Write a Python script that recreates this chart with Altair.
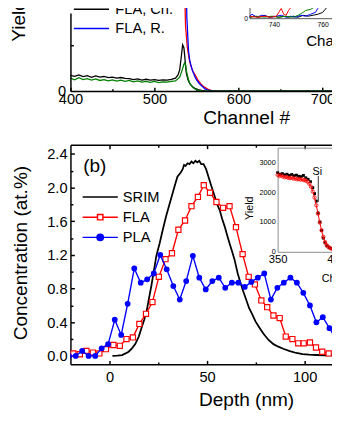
import altair as alt
import pandas as pd

# ---------------- Panel (b): depth profiles ----------------
srim_depth = [1.5, 4.0, 6.5, 8.2, 9.8, 11.5, 13.2, 15.0, 16.5, 17.8, 19.0, 20.2, 21.5, 22.8, 24.0,
              25.7, 27.3, 29.0, 30.7, 32.3, 33.5, 34.8, 36.5, 37.5, 38.2, 39.0, 40.0, 41.0, 42.0, 43.0,
              44.0, 45.0, 46.0, 47.0, 48.2, 49.5, 50.7, 52.3, 54.0, 55.2, 56.5, 57.7, 59.0, 60.2, 61.5,
              62.7, 64.0, 65.7, 67.0, 68.2, 70.0, 71.5, 73.2, 74.8, 77.0, 79.0, 81.5, 84.0, 86.5, 89.0,
              92.0, 95.7, 99.0, 102.3, 106.0, 110.7, 115.0]
srim_conc = [0.0, 0.003, 0.01, 0.03, 0.05, 0.09, 0.14, 0.23, 0.34, 0.43, 0.53, 0.68, 0.84, 1.02, 1.19,
             1.34, 1.50, 1.66, 1.80, 1.93, 2.03, 2.13, 2.18, 2.22, 2.27, 2.26, 2.29, 2.28, 2.31, 2.29,
             2.32, 2.30, 2.32, 2.28, 2.28, 2.22, 2.13, 2.01, 1.89, 1.80, 1.73, 1.63, 1.54, 1.44, 1.34,
             1.25, 1.15, 0.98, 0.88, 0.79, 0.67, 0.57, 0.49, 0.41, 0.33, 0.26, 0.19, 0.14, 0.11, 0.085,
             0.06, 0.035, 0.022, 0.015, 0.011, 0.008, 0.005]

fla_depth = [-18.5, -15.2, -11.8, -8.5, -5.2, -1.8, 2.0, 5.3, 8.7, 12.0,
             15.3, 18.7, 22.0, 25.3, 28.7, 32.0, 35.3, 38.7, 42.0, 45.3,
             48.3, 51.5, 54.8, 58.2, 61.5, 64.8, 68.2, 71.3, 74.5, 77.8,
             80.8, 84.0, 87.2, 90.3, 93.7, 96.7, 99.5, 102.7, 105.8, 109.0, 112.3]
fla_conc = [0.03, 0.02, 0.06, 0.04, 0.03, 0.08, 0.13, 0.12, 0.20, 0.22,
            0.38, 0.50, 0.64, 0.94, 1.15, 1.22, 1.50, 1.61, 1.78, 1.89,
            2.03, 1.94, 1.83, 1.76, 1.78, 1.53, 1.21, 0.94, 0.85, 0.66,
            0.58, 0.48, 0.45, 0.23, 0.20, 0.15, 0.15, 0.16, 0.10, 0.05, 0.03]

pla_depth = [-20.7, -17.3, -14.0, -10.7, -7.3, -4.0, -0.7, 2.7, 6.0, 9.3,
             12.7, 16.0, 19.3, 22.7, 26.0, 29.3, 32.7, 36.0, 39.3, 42.7,
             46.0, 49.3, 52.7, 56.0, 59.3, 62.7, 66.0, 69.3, 72.7, 76.0,
             79.3, 82.7, 86.0, 89.3, 92.7, 96.0, 99.3, 102.7, 106.0, 109.3, 112.7, 116.0]
pla_conc = [0.0, 0.0, 0.06, 0.0, 0.0, 0.09, 0.14, 0.43, 0.25, 0.62,
            1.04, 0.87, 0.91, 0.98, 1.20, 1.03, 0.83, 0.67, 0.89, 1.19,
            0.93, 0.79, 0.89, 0.93, 0.81, 0.87, 0.87, 0.82, 0.88, 0.93,
            0.98, 0.67, 0.81, 0.87, 0.93, 0.87, 0.75, 0.60, 0.40, 0.46, 0.33, 0.20]

b_names = ["SRIM", "FLA", "PLA"]
b_colors = ["black", "#ff0000", "#0000ff"]
b_fills = ["white", "white", "#0000ff"]

# inset of (b): RBS Si edge
inb_ch = [350, 352, 354, 356, 358, 360, 362, 364, 366, 368, 370, 372, 374, 376, 378, 380,
          381.5, 383, 384.5, 386, 387.5, 389, 390.5, 392, 394, 396]
inb_y = [2650, 2600, 2620, 2580, 2600, 2560, 2590, 2550, 2570, 2530, 2520, 2560, 2480, 2430, 2350, 2150,
         1950, 1700, 1300, 1000, 720, 460, 300, 200, 140, 110]
inr_ch = [350, 351.5, 353, 354.5, 356, 357.5, 359, 360.5, 362, 363.5, 365, 366.5, 368, 369.5, 371, 372.5,
          374, 375.5, 377, 378.5, 380, 381.5, 383, 384.5, 386, 387.5, 389, 390.5, 392, 393.5, 395, 396.5]
inr_y = [2580, 2540, 2560, 2520, 2500, 2510, 2480, 2470, 2490, 2450, 2460, 2430, 2440, 2420, 2430, 2400,
         2390, 2350, 2280, 2180, 2020, 1820, 1560, 1280, 980, 720, 500, 330, 220, 160, 120, 100]
si_label = ["Si"]
si_label_ch = [383.9]
si_label_y = [2572]
si_line_ch = [384.7]
si_line_top = [2540]
si_line_bot = [1670]
panel_label = ["(b)"]
panel_label_depth = [-13.5]
panel_label_conc = [2.19]

# ---------------- Panel (a): RBS spectra ----------------
k_ch = [400, 405, 410, 415, 420, 425, 430, 435, 440, 445, 450, 455, 460, 465, 470, 475, 480, 485, 490,
        495, 500, 505, 510, 515, 520, 525, 528, 530, 532, 533.5, 535, 536, 537, 538, 540, 542, 545,
        548, 552, 556, 560, 565, 600, 650, 711]
k_cnt = [170, 160, 175, 158, 168, 150, 165, 152, 158, 146, 152, 140, 147, 138, 135, 125, 132, 120, 128,
         118, 125, 115, 122, 118, 128, 140, 175, 230, 380, 500, 470, 380, 270, 190, 120, 80, 50,
         30, 15, 8, 3, 0, 0, 0, 0]
g_ch = [400, 405, 410, 415, 420, 425, 430, 435, 440, 445, 450, 455, 460, 465, 470, 475, 480, 485, 490,
        495, 500, 505, 510, 515, 520, 525, 530, 533, 535, 536, 537, 538, 540, 542, 545, 548, 552, 556,
        560, 600, 711]
g_cnt = [140, 122, 145, 125, 135, 120, 132, 115, 125, 112, 122, 108, 118, 105, 115, 100, 110, 98, 106,
         95, 104, 92, 100, 96, 104, 110, 150, 230, 290, 305, 285, 220, 140, 85, 45, 22, 10, 3,
         0, 0, 0]
r_ch = [400, 450, 500, 533, 535, 537, 539, 541, 543, 546, 549, 552, 555, 558, 561, 564, 568, 575, 600, 650, 711]
r_cnt = [2600, 2550, 2500, 2450, 1400, 700, 480, 360, 280, 210, 165, 115, 80, 52, 35, 18, 5, 0, 0, 0, 0]
bl_ch = [400, 450, 500, 535, 537, 538.5, 540.5, 542, 545, 549, 553, 557, 560.5, 564, 570, 580, 600, 650, 711]
bl_cnt = [2650, 2600, 2550, 2500, 1500, 800, 440, 330, 225, 137, 85, 50, 21, 10, 3, 0, 0, 0, 0]
a_names = ["PLA, Ch.", "PLA, R.", "FLA, Ch.", "FLA, R."]
a_colors = ["#008000", "#ff0000", "black", "#0000ff"]

# inset of (a)
ti_k_ch = [730, 732, 734, 736, 738, 740, 742, 744, 746, 748, 750, 752, 754, 756, 758, 760, 762, 764, 766, 770]
ti_k_y = [1, 2, 1, 3, 1, 2, 1, 2, 1, 2, 1, 3, 2, 3, 4, 6, 12, 20, 30, 40]
ti_b_ch = [730, 731, 733, 735, 737, 739, 741, 743, 745, 747, 749, 751, 753, 755, 757, 758, 760, 762, 765, 770]
ti_b_y = [2, 4, 1, 3, 2, 1, 2, 3, 1, 2, 1, 3, 2, 4, 6, 10, 16, 25, 35, 45]
ti_g_ch = [730, 733, 736, 739, 742, 745, 748, 750, 752, 753, 755, 757, 759, 761, 764, 770]
ti_g_y = [1, 2, 1, 2, 1, 2, 1, 3, 6, 8, 9, 12, 18, 26, 35, 45]
ti_r_ch = [730, 733, 736, 739, 741, 742, 743, 744, 745, 746, 747, 748, 749, 750, 751, 752, 754, 756, 760, 770]
ti_r_y = [2, 1, 2, 1, 2, 6, 10, 4, 3, 8, 11, 12, 14, 12, 16, 22, 26, 32, 40, 50]

# ---------------- layout / style ----------------
FONT = "Liberation Sans"
W, H = 268, 360


def sc(domain, rng):
    return alt.Scale(domain=domain, range=rng, nice=False, zero=False)


XB = sc([-20, 114], [0, W])
YB = sc([-0.1, 2.51], [H, 135])
XT = sc([400, 711.27], [0, W])
YT = sc([0, 845.7], [80, 0])
XI = sc([350, 450], [212.3, 332.3])
YI = sc([0, 3490], [244.7, 138])
XTI = sc([730, 770], [183.5, 283.5])
YTI = sc([0, 60], [5.3, -54.7])


def ax(**kw):
    base = dict(grid=False, labelFlush=False, labelOverlap=False, domainColor="black",
                tickColor="black", labelColor="black", titleColor="black",
                titleFontWeight="normal", domainWidth=1.5, tickWidth=1.5,
                labelFont=FONT, titleFont=FONT)
    base.update(kw)
    return alt.Axis(**base)


def tick_ax(orient, offset, values, size):
    return ax(orient=orient, offset=offset, values=values, tickSize=size,
              labels=False, domain=False, title=None)


def pos(xf, yf, xs, ys, xa=None, ya=None):
    return dict(x=alt.X(f"{xf}:Q", scale=xs, axis=xa),
                y=alt.Y(f"{yf}:Q", scale=ys, axis=ya))


b_major = [0, 0.4, 0.8, 1.2, 1.6, 2.0, 2.4]
b_minor = [0.2, 0.6, 1.0, 1.4, 1.8, 2.2]

A1 = ax(orient="bottom", values=[0, 50, 100], ticks=False, tickSize=0, labelFontSize=15,
        labelPadding=6, title="Depth (nm)", titleFontSize=19.5, titleX=180, titleY=42.5,
        titleBaseline="alphabetic", titleAlign="center")
A2 = tick_ax("top", -H, [0, 50, 100], 4)
A3 = tick_ax("top", -H, [25, 75], 2.5)
A4 = ax(orient="bottom", offset=135 - H, values=[0, 50, 100], tickSize=4, labels=False, title=None)
A5 = tick_ax("bottom", 135 - H, [25, 75], 2.5)
A6 = ax(orient="left", values=b_major, format=".1f", ticks=False, tickSize=0, labelFontSize=15,
        labelPadding=3.5, title="Concentration (at.%)", titleFontSize=19.5, titleAngle=270,
        titleX=-45, titleY=245.5, titleAlign="center", titleBaseline="alphabetic")
A7 = tick_ax("right", -W, b_major, 4)
A8 = tick_ax("right", -W, b_minor, 2.5)

T1 = ax(orient="bottom", offset=80 - H, values=[400, 500, 600, 700], ticks=False, tickSize=0,
        labelFontSize=15, labelPadding=1, title="Channel #", titleFontSize=19.5, titleX=180,
        titleY=33, titleBaseline="alphabetic", titleAlign="center", zindex=1)
T2 = tick_ax("top", -80, [400, 500, 600, 700], 4)
T3 = tick_ax("top", -80, [450, 550, 650], 2.5)
T4 = ax(orient="left", values=[0], ticks=False, tickSize=0, labelFontSize=15, labelPadding=5,
        title="Yield", titleFontSize=19.5, titleAngle=270, titleX=-47, titleY=29,
        titleAlign="left", titleBaseline="alphabetic", zindex=1)
T5 = tick_ax("right", -W, [500], 3)

GRAY = "#8a8a8a"
I1 = ax(orient="bottom", offset=244.7 - H, values=[350, 400, 450], ticks=False, tickSize=0,
        labelFontSize=11.5, labelPadding=2, domainColor=GRAY, domainWidth=1, title="Channel",
        titleFontSize=11, titleX=257, titleY=30.3, titleAlign="left", titleBaseline="alphabetic")
I2 = ax(orient="left", offset=-212.3, values=[0, 1000, 2000, 3000], format="d", ticks=False,
        tickSize=0, labelFontSize=7.5, labelPadding=2.5, domainColor=GRAY, domainWidth=1,
        title="Yield", titleFontSize=11, titleAngle=270, titleX=-25.8, titleY=199.5,
        titleAlign="center", titleBaseline="alphabetic")
I3 = ax(orient="bottom", offset=138 - H, values=[350], ticks=False, tickSize=0, labels=False,
        domainColor=GRAY, domainWidth=1, title=None)

DK = "#555555"
J1 = ax(orient="bottom", offset=5.3 - H, values=[740, 760], ticks=False, tickSize=0,
        labelFontSize=7, labelPadding=2.5, domainColor=DK, domainWidth=1, title="Channel",
        titleFontSize=15.5, titleX=241, titleY=27.7, titleAlign="left", titleBaseline="alphabetic")
J2 = ax(orient="left", offset=-183.5, values=[0], ticks=False, tickSize=0, labelFontSize=7,
        labelPadding=2, domainColor=DK, domainWidth=1, title=None)

# ---------------- data frames ----------------
df_srim = pd.DataFrame({"d": srim_depth, "c": srim_conc})
df_fla = pd.DataFrame({"d": fla_depth, "c": fla_conc})
df_pla = pd.DataFrame({"d": pla_depth, "c": pla_conc})
df_bleg = pd.DataFrame({"s": b_names, "d": [-100] * 3, "c": [0] * 3})
df_blab = pd.DataFrame({"t": panel_label, "d": panel_label_depth, "c": panel_label_conc})

df_k = pd.DataFrame({"ch": k_ch, "n": k_cnt})
df_g = pd.DataFrame({"ch": g_ch, "n": g_cnt})
df_r = pd.DataFrame({"ch": r_ch, "n": r_cnt})
df_bl = pd.DataFrame({"ch": bl_ch, "n": bl_cnt})
df_aleg = pd.DataFrame({"s": a_names, "ch": [300] * 4, "n": [0] * 4})

df_inb = pd.DataFrame({"ch": inb_ch, "y": inb_y})
df_inr = pd.DataFrame({"ch": inr_ch, "y": inr_y})
df_sit = pd.DataFrame({"t": si_label, "ch": si_label_ch, "y": si_label_y})
df_sil = pd.DataFrame({"ch": si_line_ch, "y": si_line_top, "y2": si_line_bot})

df_tk = pd.DataFrame({"ch": ti_k_ch, "y": ti_k_y})
df_tb = pd.DataFrame({"ch": ti_b_ch, "y": ti_b_y})
df_tg = pd.DataFrame({"ch": ti_g_ch, "y": ti_g_y})
df_tr = pd.DataFrame({"ch": ti_r_ch, "y": ti_r_y})

# ---------------- legends ----------------
P_LINE = "M-3,0H3"
P_SQ = "M-3,0H-0.46M0.46,0H3M-0.46,-0.46H0.46V0.46H-0.46Z"
P_CI = "M-3,0H-0.55M0.55,0H3M0.55,0A0.55,0.55,0,1,1,-0.55,0A0.55,0.55,0,1,1,0.55,0Z"

leg_b = alt.Legend(title=None, orient="none", legendX=23, legendY=181, symbolSize=144,
                   symbolStrokeWidth=1.5, labelFontSize=15, labelFont=FONT, labelColor="black",
                   labelOffset=15.7, rowPadding=4.7, padding=0)
leg_a = alt.Legend(title=None, orient="none", legendX=14, legendY=-50.5, symbolType=P_LINE,
                   symbolSize=144, symbolStrokeWidth=1.5, labelFontSize=15, labelFont=FONT,
                   labelColor="black", labelOffset=17, rowPadding=3.6, padding=0)

# ---------------- layers ----------------
layers = []
# panel (a) main
layers.append(alt.Chart(df_r).mark_line(color="#ff0000", strokeWidth=1.3)
              .encode(**pos("ch", "n", XT, YT, T1, T4)))
layers.append(alt.Chart(df_bl).mark_line(color="#0000ff", strokeWidth=1.3)
              .encode(**pos("ch", "n", XT, YT, T2, T5)))
layers.append(alt.Chart(df_k).mark_line(color="black", strokeWidth=1.3)
              .encode(**pos("ch", "n", XT, YT, T3)))
layers.append(alt.Chart(df_g).mark_line(color="#008000", strokeWidth=1.3)
              .encode(**pos("ch", "n", XT, YT)))
layers.append(alt.Chart(df_aleg).mark_point(clip=True, opacity=1, strokeWidth=1.5)
              .encode(**pos("ch", "n", XT, YT),
                      color=alt.Color("s:N", scale=alt.Scale(domain=a_names, range=a_colors),
                                      legend=leg_a)))
# panel (a) inset
layers.append(alt.Chart(df_tk).mark_line(color="black", strokeWidth=1)
              .encode(**pos("ch", "y", XTI, YTI, J1, J2)))
layers.append(alt.Chart(df_tb).mark_line(color="#0000ff", strokeWidth=1)
              .encode(**pos("ch", "y", XTI, YTI)))
layers.append(alt.Chart(df_tg).mark_line(color="#008000", strokeWidth=1)
              .encode(**pos("ch", "y", XTI, YTI)))
layers.append(alt.Chart(df_tr).mark_line(color="#ff0000", strokeWidth=1)
              .encode(**pos("ch", "y", XTI, YTI)))
# panel (b) main
layers.append(alt.Chart(df_srim).mark_line(color="black", strokeWidth=1.8, clip=True)
              .encode(**pos("d", "c", XB, YB, A1, A6)))
layers.append(alt.Chart(df_fla).mark_line(color="#ff0000", strokeWidth=1.4, clip=True)
              .encode(**pos("d", "c", XB, YB, A2, A7)))
layers.append(alt.Chart(df_fla).mark_point(shape="square", size=28, filled=True, fill="white",
                                           stroke="#ff0000", strokeWidth=1.2, opacity=1, clip=True)
              .encode(**pos("d", "c", XB, YB, A3, A8)))
layers.append(alt.Chart(df_pla).mark_line(color="#0000ff", strokeWidth=1.4, clip=True)
              .encode(**pos("d", "c", XB, YB, A4)))
layers.append(alt.Chart(df_pla).mark_point(shape="circle", size=35, filled=True, color="#0000ff",
                                           opacity=1, clip=True)
              .encode(**pos("d", "c", XB, YB, A5)))
layers.append(alt.Chart(df_bleg).mark_point(clip=True, filled=True, opacity=1, strokeWidth=1.5)
              .encode(**pos("d", "c", XB, YB),
                      stroke=alt.Stroke("s:N", scale=alt.Scale(domain=b_names, range=b_colors), legend=leg_b),
                      fill=alt.Fill("s:N", scale=alt.Scale(domain=b_names, range=b_fills), legend=leg_b),
                      shape=alt.Shape("s:N", scale=alt.Scale(domain=b_names, range=[P_LINE, P_SQ, P_CI]),
                                      legend=leg_b)))
layers.append(alt.Chart(df_blab).mark_text(align="left", baseline="alphabetic", fontSize=19.5,
                                           font=FONT, color="black")
              .encode(**pos("d", "c", XB, YB), text="t:N"))
# panel (b) inset
layers.append(alt.Chart(df_inb).mark_point(shape="square", size=9, filled=True, color="black", opacity=1)
              .encode(**pos("ch", "y", XI, YI, I1, I2)))
layers.append(alt.Chart(df_inr).mark_line(color="#ff0000", strokeWidth=1)
              .encode(**pos("ch", "y", XI, YI, I3)))
layers.append(alt.Chart(df_inr).mark_point(shape="circle", size=12, filled=False, color="#ff0000",
                                           strokeWidth=0.8, opacity=1)
              .encode(**pos("ch", "y", XI, YI)))
layers.append(alt.Chart(df_sil).mark_rule(color="black", strokeWidth=0.8)
              .encode(**pos("ch", "y", XI, YI), y2="y2:Q"))
layers.append(alt.Chart(df_sit).mark_text(align="center", baseline="alphabetic", fontSize=11,
                                          font=FONT, color="black")
              .encode(**pos("ch", "y", XI, YI), text="t:N"))

chart = (alt.layer(*layers)
         .resolve_scale(x="independent", y="independent")
         .properties(width=W, height=H, autosize=alt.AutoSizeParams(type="none"),
                     padding={"left": 64, "top": 0, "right": 0, "bottom": 56})
         .configure(font=FONT)
         .configure_view(stroke=None))

chart.save("out.html", embed_options={"renderer": "svg", "actions": False})
